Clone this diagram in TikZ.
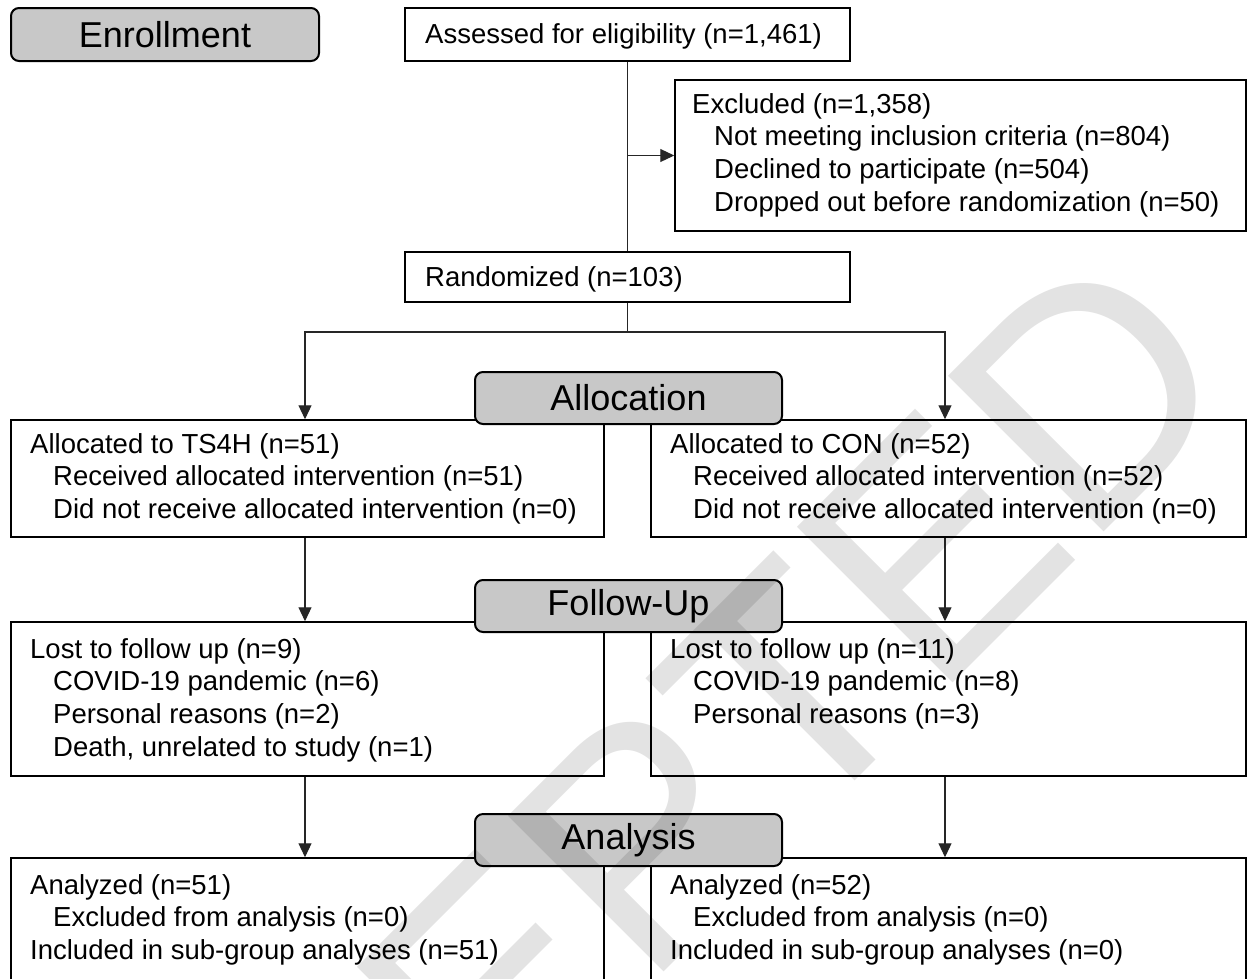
\documentclass[tikz,border=0pt]{standalone}
\usepackage{fontspec}
\setmainfont{Liberation Sans}
\usetikzlibrary{arrows.meta}
\definecolor{hdrgray}{RGB}{200,200,200}
\begin{document}
\begin{tikzpicture}[x=1pt,y=-1pt,
  box/.style={draw=black, line width=1.5pt, fill=white, inner sep=0pt},
  hdr/.style={draw=black, line width=2pt, fill=hdrgray, rounded corners=8pt, minimum width=307pt, minimum height=52pt, inner sep=0pt, font=\fontsize{36}{40}\selectfont},
  txt/.style={anchor=north west, align=left, inner sep=0pt, font=\fontsize{27.5}{32.7}\selectfont},
  conn/.style={line width=1.1pt, draw=black!85},
  arr/.style={conn, -{Triangle[length=14pt,width=13pt]}},
  wmark/.style={text=black, opacity=0.11, rotate=45, inner sep=0pt, font=\fontsize{320}{320}\selectfont}
]
\useasboundingbox (0,0) rectangle (1249,978);
\fill[white] (0,0) rectangle (1249,978);
\clip (0,0) rectangle (1249,978);

% boxes
\node[box, minimum width=445pt, minimum height=53pt] (ass) at (627.5,34.5) {};
\node[box, minimum width=571pt, minimum height=151pt] (exc) at (960.5,155.5) {};
\node[box, minimum width=445pt, minimum height=50pt] (ran) at (627.5,277) {};
\node[box, minimum width=593pt, minimum height=117pt] (a1) at (307.5,478.5) {};
\node[box, minimum width=595pt, minimum height=117pt] (a2) at (948.5,478.5) {};
\node[box, minimum width=593pt, minimum height=154pt] (f1) at (307.5,699) {};
\node[box, minimum width=595pt, minimum height=154pt] (f2) at (948.5,699) {};
\node[box, minimum width=593pt, minimum height=160pt] (n1) at (307.5,938) {};
\node[box, minimum width=595pt, minimum height=160pt] (n2) at (948.5,938) {};

% connectors
\coordinate (sp) at (627.5,332);
\coordinate (xl) at (305,332);
\coordinate (xr) at (945,332);
\draw[conn] (ass.south) -- (ran.north);
\draw[arr] (ass.south |- exc.west) -- (exc.west);
\draw[conn] (ran.south) -- (sp);
\draw[arr] (sp) -| (xl |- a1.north);
\draw[arr] (sp) -| (xr |- a2.north);
\draw[arr] (xl |- a1.south) -- (xl |- f1.north);
\draw[arr] (xr |- a2.south) -- (xr |- f2.north);
\draw[arr] (xl |- f1.south) -- (xl |- n1.north);
\draw[arr] (xr |- f2.south) -- (xr |- n2.north);

% stage headers
\node[hdr, minimum width=308pt, minimum height=53pt] (enr) at (165,34.5) {Enrollment};
\node[hdr] (alh) at (628.5,398) {Allocation};
\node[hdr] (fuh) at (628.5,606) {Follow-Up};
\node[hdr] (anh) at (628.5,840) {Analysis};

% texts (top = first baseline - 20)
\node[txt] (asst) at (425,23) {Assessed for eligibility (n=1,461)};
\node[txt] (exct) at (692,93) {Excluded (n=1,358)\\\hspace*{22pt}Not meeting inclusion criteria (n=804)\\\hspace*{22pt}Declined to participate (n=504)\\\hspace*{22pt}Dropped out before randomization (n=50)};
\node[txt] (rant) at (425,266) {Randomized (n=103)};
\node[txt] (a1t) at (30,433) {Allocated to TS4H (n=51)\\\hspace*{23pt}Received allocated intervention (n=51)\\\hspace*{23pt}Did not receive allocated intervention (n=0)};
\node[txt] (a2t) at (670,433) {Allocated to CON (n=52)\\\hspace*{23pt}Received allocated intervention (n=52)\\\hspace*{23pt}Did not receive allocated intervention (n=0)};
\node[txt] (f1t) at (30,638) {Lost to follow up (n=9)\\\hspace*{23pt}COVID-19 pandemic (n=6)\\\hspace*{23pt}Personal reasons (n=2)\\\hspace*{23pt}Death, unrelated to study (n=1)};
\node[txt] (f2t) at (670,638) {Lost to follow up (n=11)\\\hspace*{23pt}COVID-19 pandemic (n=8)\\\hspace*{23pt}Personal reasons (n=3)};
\node[txt] (n1t) at (30,874) {Analyzed (n=51)\\\hspace*{23pt}Excluded from analysis (n=0)\\Included in sub-group analyses (n=51)};
\node[txt] (n2t) at (670,874) {Analyzed (n=52)\\\hspace*{23pt}Excluded from analysis (n=0)\\Included in sub-group analyses (n=0)};

% watermark
\node[wmark] (wm) at (555,925) {ACCEPTED};
\end{tikzpicture}
\end{document}
